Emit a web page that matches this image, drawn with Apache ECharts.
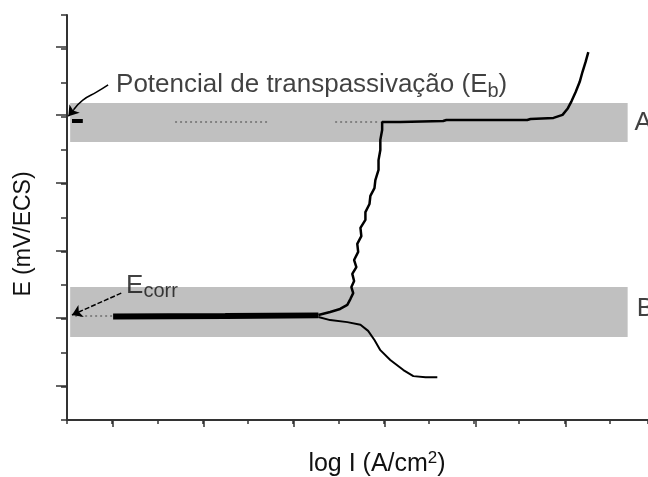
<!DOCTYPE html>
<html>
<head>
<meta charset="utf-8">
<script src="https://cdn.jsdelivr.net/npm/echarts@6/dist/echarts.min.js"></script>
<style>
  html, body { margin: 0; padding: 0; background: #fff; }
  #chart { width: 648px; height: 477px; }
</style>
</head>
<body>
<div id="chart"></div>
<script>
// values in tick units (x: log I ticks, y: E ticks)
const flatBranch = [[1.02, 3.07], [3.50, 3.08], [5.56, 3.10]];

const anodicBranch = [
    [5.56, 3.11], [5.82, 3.20], [6.04, 3.29], [6.20, 3.41], [6.27, 3.59],
    [6.33, 3.76], [6.29, 3.94], [6.35, 4.12], [6.31, 4.33], [6.40, 4.53],
    [6.35, 4.74], [6.44, 4.98], [6.42, 5.22], [6.51, 5.45], [6.49, 5.69],
    [6.60, 5.93], [6.60, 6.16], [6.69, 6.40], [6.71, 6.64], [6.80, 6.87],
    [6.82, 7.11], [6.89, 7.41], [6.89, 7.70], [6.93, 8.00], [6.93, 8.30],
    [6.97, 8.59], [6.97, 8.83], [7.37, 8.83], [8.32, 8.86], [8.39, 8.89],
    [10.18, 8.89], [10.25, 8.92], [10.76, 8.95], [10.96, 9.04], [11.07, 9.22],
    [11.16, 9.45], [11.25, 9.72], [11.34, 10.02], [11.40, 10.31], [11.47, 10.61],
    [11.53, 10.90]
];

const cathodicBranch = [
    [5.56, 3.05], [5.82, 2.96], [6.20, 2.90], [6.49, 2.82], [6.66, 2.64],
    [6.80, 2.37], [6.93, 2.07], [7.15, 1.78], [7.44, 1.48], [7.66, 1.30],
    [7.93, 1.27], [8.19, 1.27]
];

const dottedGuides = [
    [[2.39, 8.83], [4.49, 8.83]],
    [[5.93, 8.83], [6.93, 8.83]],
    [[0.18, 3.08], [1.02, 3.08]]
];
const ebMark = [[0.11, 8.86], [0.35, 8.86]];

const arrowEbBody = [[0.91, 9.93], [0.66, 9.72], [0.35, 9.48], [0.15, 9.20]];
const arrowEbTip = [[0.15, 9.20], [0.03, 9.00]];
const arrowEcorr = [[1.20, 3.76], [0.11, 3.11]];

const bandA = [0.07, 8.24, 12.40, 9.39];
const bandB = [0.07, 2.46, 12.40, 3.94];

const labels = [
    { value: [1.085, 9.92], text: '{t|Potencial de transpassivação (E}{s|b}{t|)}' },
    { value: [1.306, 3.98], text: '{t|E}{s|corr}' },
    { value: [12.55, 8.80], text: '{t|A}' },
    { value: [12.60, 3.30], text: '{t|B}' }
];

const font = 'Liberation Sans, Arial, Helvetica, sans-serif';
const ink = '#111';

const chart = echarts.init(document.getElementById('chart'));

chart.setOption({
    backgroundColor: '#fff',
    animation: false,
    grid: [
        { left: 67, right: 0, top: 15, bottom: 57, outerBoundsMode: 'none', containLabel: false },
        { left: 113, right: 82, top: 47, bottom: 91, outerBoundsMode: 'none', containLabel: false }
    ],
    xAxis: [
        {
            type: 'value', gridIndex: 0, min: 0, max: 12.85, interval: 1,
            name: '{n|log I (A/cm}{sup|2}{n|)}',
            nameLocation: 'middle', nameGap: 30,
            nameTextStyle: {
                padding: [0, 0, 0, 39],
                rich: {
                    n: { fontFamily: font, fontSize: 25, color: ink },
                    sup: { fontFamily: font, fontSize: 17, color: ink, padding: [0, 0, 12, 0] }
                }
            },
            axisLine: { onZero: false, lineStyle: { color: '#333', width: 2 } },
            axisTick: { length: 4, lineStyle: { color: '#333', width: 1.5 } },
            axisLabel: { show: false },
            splitLine: { show: false }
        },
        {
            type: 'value', gridIndex: 1, min: 0, max: 10, interval: 2, offset: 34,
            axisLine: { show: false, onZero: false },
            axisTick: { show: true, length: 7, lineStyle: { color: '#333', width: 1.5 } },
            axisLabel: { show: false },
            splitLine: { show: false }
        }
    ],
    yAxis: [
        {
            type: 'value', gridIndex: 0, min: 0, max: 12, interval: 1,
            name: 'E (mV/ECS)',
            nameLocation: 'middle', nameGap: 32, nameRotate: 90,
            nameTextStyle: { fontFamily: font, fontSize: 23, color: ink, padding: [0, 33, 0, 0] },
            axisLine: { onZero: false, lineStyle: { color: '#333', width: 2 } },
            axisTick: { length: 6, lineStyle: { color: '#333', width: 1.5 } },
            axisLabel: { show: false },
            splitLine: { show: false }
        },
        {
            type: 'value', gridIndex: 1, min: 0, max: 10, interval: 2, offset: 46,
            axisLine: { show: false, onZero: false },
            axisTick: { show: true, length: 11, lineStyle: { color: '#333', width: 1.5 } },
            axisLabel: { show: false },
            splitLine: { show: false }
        }
    ],
    series: [
        {
            name: 'bands',
            type: 'line',
            data: [],
            z: 1,
            markArea: {
                silent: true,
                itemStyle: { color: '#c0c0c0' },
                data: [
                    [{ coord: [bandA[0], bandA[1]] }, { coord: [bandA[2], bandA[3]] }],
                    [{ coord: [bandB[0], bandB[1]] }, { coord: [bandB[2], bandB[3]] }]
                ]
            }
        },
        {
            name: 'guides',
            type: 'lines',
            coordinateSystem: 'cartesian2d',
            z: 2,
            lineStyle: { color: '#6e6e6e', width: 1.5, type: [2, 3], opacity: 1 },
            data: dottedGuides.map(c => ({ coords: c }))
        },
        {
            name: 'Eb mark',
            type: 'line',
            data: ebMark,
            symbol: 'none',
            z: 3,
            lineStyle: { color: '#000', width: 4 }
        },
        {
            name: 'flat',
            type: 'line',
            data: flatBranch,
            symbol: 'none',
            z: 4,
            lineStyle: { color: '#000', width: 6 }
        },
        {
            name: 'anodic',
            type: 'line',
            data: anodicBranch,
            symbol: 'none',
            z: 4,
            lineStyle: { color: '#000', width: 2.5 }
        },
        {
            name: 'cathodic',
            type: 'line',
            data: cathodicBranch,
            symbol: 'none',
            z: 4,
            lineStyle: { color: '#000', width: 2 }
        },
        {
            name: 'arrow body',
            type: 'line',
            data: arrowEbBody,
            symbol: 'none',
            smooth: true,
            z: 5,
            lineStyle: { color: '#000', width: 1.5 }
        },
        {
            name: 'arrows',
            type: 'lines',
            coordinateSystem: 'cartesian2d',
            z: 5,
            symbol: ['none', 'arrow'],
            symbolSize: [7, 10],
            data: [
                { coords: arrowEbTip, lineStyle: { color: '#000', width: 1.5, type: 'solid', opacity: 1 } },
                { coords: arrowEcorr, lineStyle: { color: '#000', width: 1.5, type: [5, 2], opacity: 1 } }
            ]
        },
        {
            name: 'texts',
            type: 'scatter',
            clip: false,
            symbolSize: 0,
            z: 6,
            data: labels.map(l => ({ value: l.value, label: { formatter: l.text } })),
            label: {
                show: true,
                position: 'right',
                distance: 0,
                rich: {
                    t: { fontFamily: font, fontSize: 26, color: ink },
                    s: { fontFamily: font, fontSize: 20, color: ink, padding: [12, 0, 0, 0] }
                }
            }
        }
    ]
});
</script>
</body>
</html>
